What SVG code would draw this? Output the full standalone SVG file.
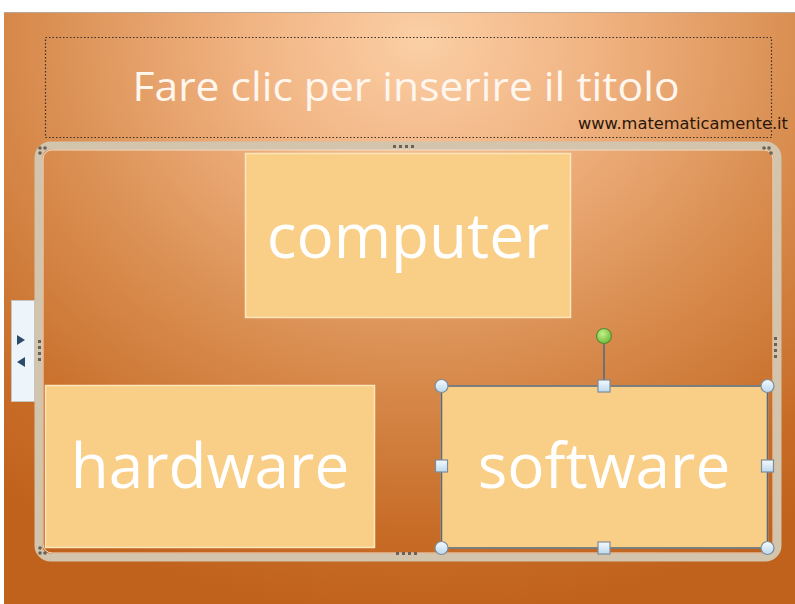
<svg xmlns="http://www.w3.org/2000/svg" width="795" height="604" viewBox="0 0 795 604">
<defs>
<radialGradient id="bg" cx="420" cy="40" r="680" gradientUnits="userSpaceOnUse" gradientTransform="translate(420 40) scale(1 0.85) translate(-420 -40)">
<stop offset="0" stop-color="#fbcfa5"/>
<stop offset="0.25" stop-color="#f1b483"/>
<stop offset="0.55" stop-color="#da8f52"/>
<stop offset="0.85" stop-color="#c76c27"/>
<stop offset="1" stop-color="#c0621c"/>
</radialGradient>
<linearGradient id="handle" x1="0" y1="0" x2="0" y2="1">
<stop offset="0" stop-color="#f4faff"/>
<stop offset="1" stop-color="#bcd8ee"/>
</linearGradient>
<radialGradient id="green" cx="0.4" cy="0.35" r="0.7">
<stop offset="0" stop-color="#c4f08a"/>
<stop offset="1" stop-color="#6cb834"/>
</radialGradient>
</defs>
<style>
.box{fill:#f9ce86;stroke:#fde6bc;stroke-width:1.5}
.lbl{font-family:"Open Sans",sans-serif;font-size:62px;fill:#ffffff;text-anchor:middle}
.grip{fill:#6a6258}
.hc{fill:url(#handle);stroke:#7d8c99;stroke-width:1.2}
</style>
<rect x="0" y="0" width="795" height="604" fill="#ffffff"/>
<rect x="4" y="12" width="791" height="592" fill="url(#bg)"/>
<line x1="4" y1="12.5" x2="795" y2="12.5" stroke="#b9a898" stroke-width="1"/>

<g id="title">
<rect x="45.5" y="37.5" width="726" height="100" fill="none" stroke="#3a3028" stroke-width="1.2" stroke-dasharray="1.5 2"/>
<text x="406" y="101" font-family="Open Sans, sans-serif" font-size="40" fill="#fff6ee" text-anchor="middle" textLength="547" lengthAdjust="spacingAndGlyphs">Fare clic per inserire il titolo</text>
</g>
<g id="watermark">
<text x="578" y="129" font-family="DejaVu Sans, sans-serif" font-size="15" fill="#2a160c" textLength="210" lengthAdjust="spacingAndGlyphs">www.matematicamente.it</text>
</g>

<g id="frame">
<rect x="38.5" y="145.5" width="739" height="412" rx="12" fill="none" stroke="#d3c4ad" stroke-width="8"/>
<rect x="43" y="150" width="730" height="403" rx="9" fill="none" stroke="#ede3d2" stroke-width="1"/>
<circle cx="40" cy="148" r="1.8" class="grip"/><circle cx="45" cy="148" r="1.8" class="grip"/><circle cx="40" cy="153" r="1.8" class="grip"/>
<circle cx="764" cy="148" r="1.8" class="grip"/><circle cx="769" cy="148" r="1.8" class="grip"/><circle cx="771" cy="153" r="1.8" class="grip"/>
<circle cx="40" cy="548" r="1.8" class="grip"/><circle cx="40" cy="553" r="1.8" class="grip"/><circle cx="45" cy="553" r="1.8" class="grip"/>
<rect x="393" y="145" width="3" height="3" class="grip"/><rect x="399" y="145" width="3" height="3" class="grip"/><rect x="405" y="145" width="3" height="3" class="grip"/><rect x="411" y="145" width="3" height="3" class="grip"/>
<rect x="396" y="552" width="3" height="3" class="grip"/><rect x="402" y="552" width="3" height="3" class="grip"/><rect x="408" y="552" width="3" height="3" class="grip"/><rect x="414" y="552" width="3" height="3" class="grip"/>
<rect x="38" y="340" width="3" height="3" class="grip"/><rect x="38" y="346" width="3" height="3" class="grip"/><rect x="38" y="352" width="3" height="3" class="grip"/><rect x="38" y="358" width="3" height="3" class="grip"/>
<rect x="774" y="337" width="3" height="3" class="grip"/><rect x="774" y="343" width="3" height="3" class="grip"/><rect x="774" y="349" width="3" height="3" class="grip"/><rect x="774" y="355" width="3" height="3" class="grip"/>
</g>

<g id="tab">
<rect x="11.5" y="300.5" width="23" height="101" fill="#eef5fa" stroke="#c9c4bc" stroke-width="1"/>
<polygon points="17,335 25,340 17,345" fill="#2b4b6b"/>
<polygon points="25,357 17,362 25,367" fill="#2b4b6b"/>
</g>

<g id="connectors"></g>

<g id="computer">
<rect x="245.5" y="153.5" width="325" height="164" class="box"/>
<text x="408" y="258" class="lbl">computer</text>
</g>

<g id="hardware">
<rect x="45.5" y="385.5" width="329" height="162" class="box"/>
<text x="210" y="488" class="lbl">hardware</text>
</g>

<g id="software">
<rect x="441.5" y="386" width="326" height="162" class="box"/>
<text x="604" y="488" class="lbl">software</text>
<rect x="441.5" y="386" width="326" height="162" fill="none" stroke="#5b6a76" stroke-width="1.6"/>
<line x1="604" y1="343" x2="604" y2="381" stroke="#5b6a76" stroke-width="1.6"/>
<circle cx="604" cy="336" r="7.5" fill="url(#green)" stroke="#5a8a38" stroke-width="1.2"/>
<circle cx="441.5" cy="386" r="6.5" class="hc"/>
<circle cx="767.5" cy="386" r="6.5" class="hc"/>
<circle cx="441.5" cy="548" r="6.5" class="hc"/>
<circle cx="767.5" cy="548" r="6.5" class="hc"/>
<rect x="598" y="380" width="12" height="12" class="hc"/>
<rect x="598" y="542" width="12" height="12" class="hc"/>
<rect x="435.5" y="460" width="12" height="12" class="hc"/>
<rect x="761.5" y="460" width="12" height="12" class="hc"/>
</g>
</svg>
